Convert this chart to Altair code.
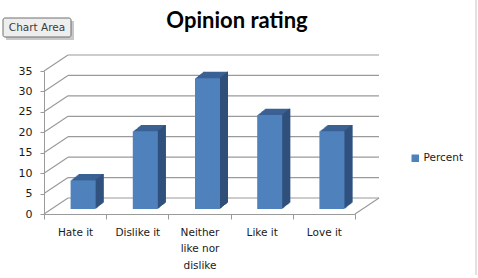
import altair as alt
import pandas as pd

# ---- data ----
categories = ["Hate it", "Dislike it", "Neither like nor dislike", "Like it", "Love it"]
percent = [7, 19, 32, 23, 19]
series_name = ["Percent"] * 5
y_ticks = [0, 5, 10, 15, 20, 25, 30, 35]
title_text = ["Opinion rating"]
tooltip_text = ["Chart Area"]

# ---- layout / style ----
W, H = 311, 143
OX, OY = 44, 71           # plot origin in the window
DX, DY = 24, -16          # back wall shift
GRAY = "#9a9a9a"
FRONT = "#4f81bd"
TOP = "#3b6194"
SIDE = "#2f4e79"
LBL_FONT = "DejaVu Sans"

df = pd.DataFrame({"category": categories, "percent": percent, "series": series_name})
grid = pd.DataFrame({"v": y_ticks})

yscale = alt.Scale(domain=[0, 35], nice=False, zero=True)
xscale = alt.Scale(domain=categories, paddingInner=0, paddingOuter=0)

x_axis = alt.Axis(
    title=None, labelAngle=0, tickBand="extent", tickSize=5, tickColor=GRAY,
    domainColor=GRAY, labelFont=LBL_FONT, labelFontSize=10.5, labelColor="#1a1a1a",
    labelPadding=8, labelLineHeight=16.5,
    labelExpr="datum.label == 'Neither like nor dislike' ? ['Neither', 'like nor', 'dislike'] : datum.label",
)
y_axis = alt.Axis(
    title=None, values=y_ticks, grid=False, tickSize=4, tickColor=GRAY,
    domainColor=GRAY, labelFont=LBL_FONT, labelFontSize=11, labelColor="#1a1a1a",
    labelPadding=8,
)
x_enc = alt.X("category:N", sort=categories, scale=xscale, axis=x_axis)


def yq(field):
    return alt.Y(field, scale=yscale, axis=y_axis)


# back wall gridlines
back_grid = alt.Chart(grid).mark_rule(color=GRAY, strokeWidth=1.2, yOffset=DY).encode(
    y=yq("v:Q"), x=alt.value(DX), x2=alt.value(W + DX),
)
# diagonal connectors from the axis to the back wall
diag = alt.Chart(grid).mark_rule(color=GRAY, strokeWidth=1.2, y2Offset=DY).encode(
    y=yq("v:Q"), y2="v:Q", x=alt.value(0), x2=alt.value(DX),
)
floor_right = alt.Chart(grid).transform_filter("datum.v == 0").mark_rule(
    color=GRAY, strokeWidth=1.2, y2Offset=DY
).encode(
    y=yq("v:Q"), y2="v:Q", x=alt.value(W), x2=alt.value(W + DX),
)

BAR_W = 25
BX = 8        # mid-depth shift of bars
BY = -5
DEPTH = 8

layers = [back_grid, diag, floor_right]

# top/side extrusion
for i in range(DEPTH, 0, -1):
    off = BY - 0.8 * i
    layers.append(
        alt.Chart(df).mark_bar(width=BAR_W, xOffset=BX + i, yOffset=off, y2Offset=off, color=TOP).encode(
            x=x_enc, y=yq("percent:Q"), y2=alt.datum(0)
        )
    )
for i in range(1, DEPTH + 1):
    off = BY - 0.8 * i
    layers.append(
        alt.Chart(df).mark_bar(width=1, xOffset=BX + BAR_W / 2 + i - 0.5, yOffset=off, y2Offset=off, color=SIDE).encode(
            x=x_enc, y=yq("percent:Q"), y2=alt.datum(0)
        )
    )

front = alt.Chart(df).mark_bar(width=BAR_W, xOffset=BX, yOffset=BY, y2Offset=BY).encode(
    x=x_enc, y=yq("percent:Q"), y2=alt.datum(0),
    color=alt.Color(
        "series:N", scale=alt.Scale(range=[FRONT]),
        legend=alt.Legend(
            title=None, orient="none", legendX=366, legendY=82, symbolType="square",
            symbolSize=56, symbolStrokeWidth=0, labelFont=LBL_FONT, labelFontSize=10.5,
            labelColor="#1a1a1a", labelOffset=3, padding=0,
        ),
    ),
)
layers.append(front)

title = alt.Chart(pd.DataFrame({"t": title_text})).mark_text(
    font="Lato", fontWeight="bold", fontSize=22, color="#000000", align="center", baseline="alphabetic"
).encode(text="t:N", x=alt.value(237 - OX), y=alt.value(28 - OY))

# "Chart Area" tooltip box
tip_df = pd.DataFrame({"t": tooltip_text})
tip_shadow = alt.Chart(tip_df).mark_rect(color="#c8c8c8").encode(
    x=alt.value(6 - OX), x2=alt.value(74 - OX), y=alt.value(21 - OY), y2=alt.value(40 - OY)
)
tip_box = alt.Chart(tip_df).mark_rect(fill="#eeeeee", stroke="#6e6e6e", strokeWidth=1, cornerRadius=2).encode(
    x=alt.value(3 - OX), x2=alt.value(71 - OX), y=alt.value(18 - OY), y2=alt.value(37 - OY)
)
tip_text = alt.Chart(tip_df).mark_text(
    font="DejaVu Sans", fontSize=10.5, color="#3c3c3c", align="center", baseline="middle"
).encode(text="t:N", x=alt.value(37 - OX), y=alt.value(28 - OY))

border = alt.Chart(tip_df).mark_rule(color="#c4c4c4", strokeWidth=1).encode(
    x=alt.value(476 - OX), y=alt.value(0 - OY), y2=alt.value(275 - OY)
)

chart = alt.layer(*layers, title, tip_shadow, tip_box, tip_text, border).properties(
    width=W, height=H,
    autosize=alt.AutoSizeParams(type="none"),
    padding={"left": OX, "top": OY, "right": 478 - OX - W, "bottom": 278 - OY - H},
    background="white",
).configure_view(stroke=None)

chart.save("out.html", embed_options={"renderer": "svg", "actions": False})
